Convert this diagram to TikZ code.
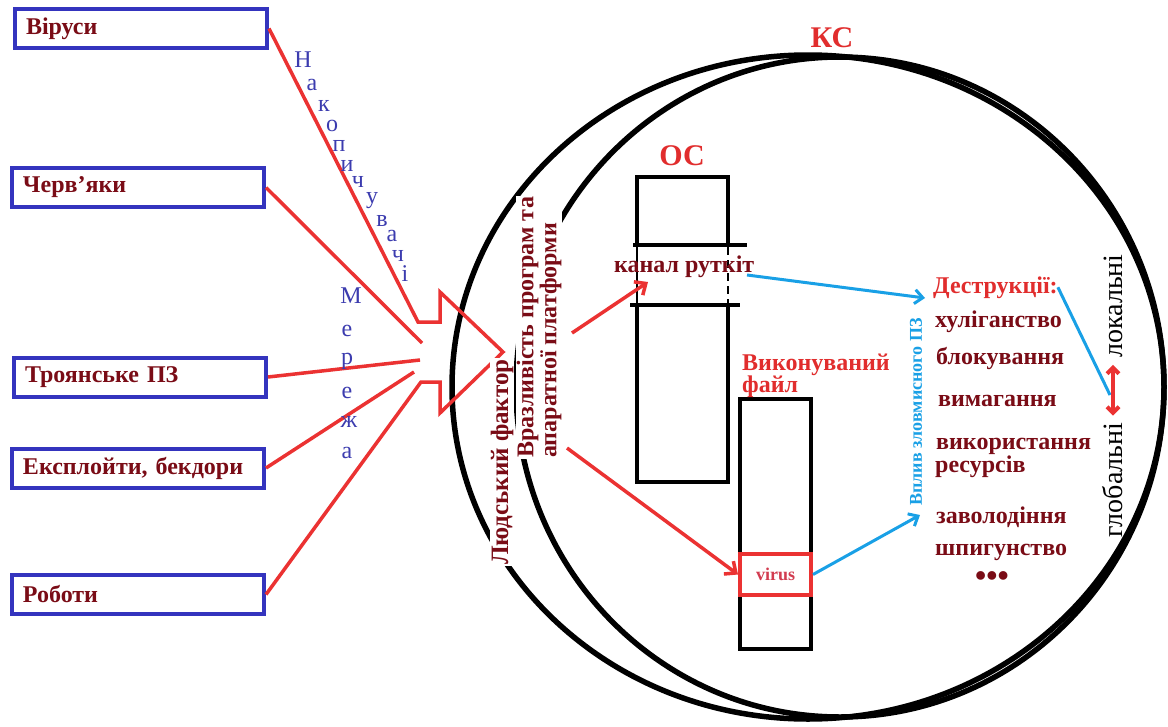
\documentclass[tikz,border=0pt]{standalone}
\usepackage{fontspec}
\setmainfont{Liberation Serif}
\usetikzlibrary{arrows.meta}
\definecolor{boxblue}{RGB}{52,52,190}
\definecolor{labelred}{RGB}{122,12,22}
\definecolor{linered}{RGB}{235,50,50}
\definecolor{titlered}{RGB}{225,45,45}
\definecolor{virusred}{RGB}{210,60,80}
\definecolor{letterblue}{RGB}{60,60,175}
\definecolor{skyblue}{RGB}{25,160,230}
\newcommand{\fsz}[1]{\fontsize{#1}{#1}\selectfont}
\begin{document}
\begin{tikzpicture}[x=1pt,y=-1pt,
  srcbox/.style={draw=boxblue, line width=4pt, minimum width=252pt, minimum height=39pt,
    text width=230pt, inner xsep=11pt, align=left, font=\fsz{24}\bfseries, text=labelred},
  redline/.style={draw=linered, line width=3.5pt},
  redarrow/.style={redline, -{Straight Barb[length=9pt,width=16pt]}},
  bluearrow/.style={draw=skyblue, line width=3pt, -{Straight Barb[length=8pt,width=14pt]}},
  item/.style={anchor=base west, font=\fsz{24}\bfseries, text=labelred, inner sep=0pt},
  blueletter/.style={font=\fsz{24}, text=letterblue, inner sep=0pt},
  rim/.style={line width=5.5pt},
  oswall/.style={line width=4pt},
  title/.style={font=\fsz{30}\bfseries, text=titlered, inner sep=0pt},
]
\useasboundingbox (0,0) rectangle (1168,726);
\fill[white] (0,0) rectangle (1168,726);

% computer system rims
\draw[rim] (808,387) ellipse [x radius=356pt, y radius=332pt];
\draw[rim] (840,387) ellipse [x radius=324pt, y radius=330pt];

% operating system column with the rootkit channel
\draw[oswall] (637,245) -- (637,177) -- (728,177) -- (728,245);
\draw[oswall] (633,245) -- (747,245);
\draw[oswall] (630,305) -- (740,305);
\draw[oswall] (637,305) -- (637,482) -- (728,482) -- (728,305);
\draw[line width=1.2pt] (637,245) -- (637,305);
\draw[line width=1.2pt, dash pattern=on 8pt off 5pt] (728,247) -- (728,305);

% executable file with the infected part
\node[draw, oswall, minimum width=71pt, minimum height=250pt, inner sep=0pt] (exe) at (775.5,524) {};
\node[draw=linered, line width=4pt, fill=white, minimum width=71pt, minimum height=41pt,
      inner sep=0pt, font=\fsz{18}\bfseries, text=virusred] (virus) at (775.5,574.5) {virus};

% sources of malware
\node[srcbox] (b1) at (141,28.5) {Віруси};
\node[srcbox] (b2) at (138,187.5) {Черв’яки};
\node[srcbox] (b3) at (140,377) {Троянське ПЗ};
\node[srcbox] (b4) at (138,468) {Експлойти, бекдори};
\node[srcbox] (b5) at (138,594.5) {Роботи};

% the big notched arrow and its feeds
\coordinate (a1) at (418,322);
\coordinate (a2) at (440,322);
\coordinate (a3) at (440,292);
\coordinate (tip) at (503,352);
\coordinate (a5) at (440,413);
\coordinate (a6) at (440,382);
\coordinate (a7) at (421,382);
\coordinate (c2) at (422,343);
\coordinate (c3) at (420,360);
\coordinate (c4) at (414,372);
\draw[redline] (b1.east) -- (a1) -- (a2) -- (a3) -- (tip) -- (a5) -- (a6) -- (a7) -- (b5.east);
\draw[redline] (b2.east) -- (c2);
\draw[redline] (b3.east) -- (c3);
\draw[redline] (b4.east) -- (c4);

% channels of spreading
\foreach \ch/\x/\y [count=\i] in {Н/303/60, а/312/85, к/324/106, о/332/126, п/339/146,
    и/347/166, ч/358/182, у/372/201, в/382/221, а/392/236, ч/398/256, і/405/274}
  \node[blueletter] (nak\i) at (\x,\y) {\ch};
\foreach \ch/\x/\y [count=\i] in {М/351/296, е/347/331, р/347/361, е/347/393, ж/349/422, а/347/453}
  \node[blueletter] (mer\i) at (\x,\y) {\ch};

% entry points
\node[rotate=90, fill=white, inner sep=1pt, font=\fsz{25}\bfseries, text=labelred]
  (human) at (502,462) {Людський фактор};
\node[rotate=90, anchor=west, fill=white, inner sep=1pt, align=left,
  font=\fontsize{24}{23}\selectfont\bfseries, text=labelred]
  (vuln) at (539,459) {Вразливість програм та\\апаратної платформи};

% labels of the systems
\node[title] (ks) at (832,38) {КС};
\node[title] (os) at (682,156) {ОС};
\node[item] (chan) at (614,272) {канал руткіт};
\node[item, text=titlered] (exe1) at (742,370) {Виконуваний};
\node[item, text=titlered] (exe2) at (742,392) {файл};

% attacks inside the system
\coordinate (r1s) at (572,333);
\coordinate (r1e) at (648,282);
\coordinate (r2s) at (567,448);
\draw[redarrow] (r1s) -- (r1e);
\draw[redarrow] (r2s) -- (virus.west);

% destructive effects
\node[item, text=titlered] (destr) at (933,293) {Деструкції:};
\node[item] (d1) at (935,327) {хуліганство};
\node[item] (d2) at (936,364) {блокування};
\node[item] (d3) at (938,406) {вимагання};
\node[item] (d4) at (936,449) {використання};
\node[item] (d5) at (935,472) {ресурсів};
\node[item] (d6) at (936,523) {заволодіння};
\node[item] (d7) at (935,555) {шпигунство};
\node[item, font=\fsz{32}\bfseries] (d8) at (975,586) {•••};

\node[rotate=90, inner sep=0pt, font=\fsz{18}\bfseries, text=skyblue] (impact) at (916,412) {Вплив зловмисного ПЗ};

\coordinate (ch1) at (747,275);
\coordinate (de1) at (925,298);
\coordinate (de2) at (920,515);
\coordinate (sc1) at (1110,395);
\draw[bluearrow] (ch1) -- (de1);
\draw[bluearrow] (virus.east) -- (de2);
\draw[draw=skyblue, line width=3pt] (destr.east) -- (sc1);

% scale of the damage
\node[rotate=90, inner sep=0pt, font=\fsz{28}] (lok) at (1113,306) {локальні};
\node[rotate=90, inner sep=0pt, font=\fsz{28}] (glob) at (1113,480) {глобальні};
\draw[draw=linered, line width=4pt, {Straight Barb[length=6pt,width=12pt]}-{Straight Barb[length=6pt,width=12pt]},
  shorten <=7pt, shorten >=7pt] (lok.west) -- (glob.east);
\end{tikzpicture}
\end{document}
